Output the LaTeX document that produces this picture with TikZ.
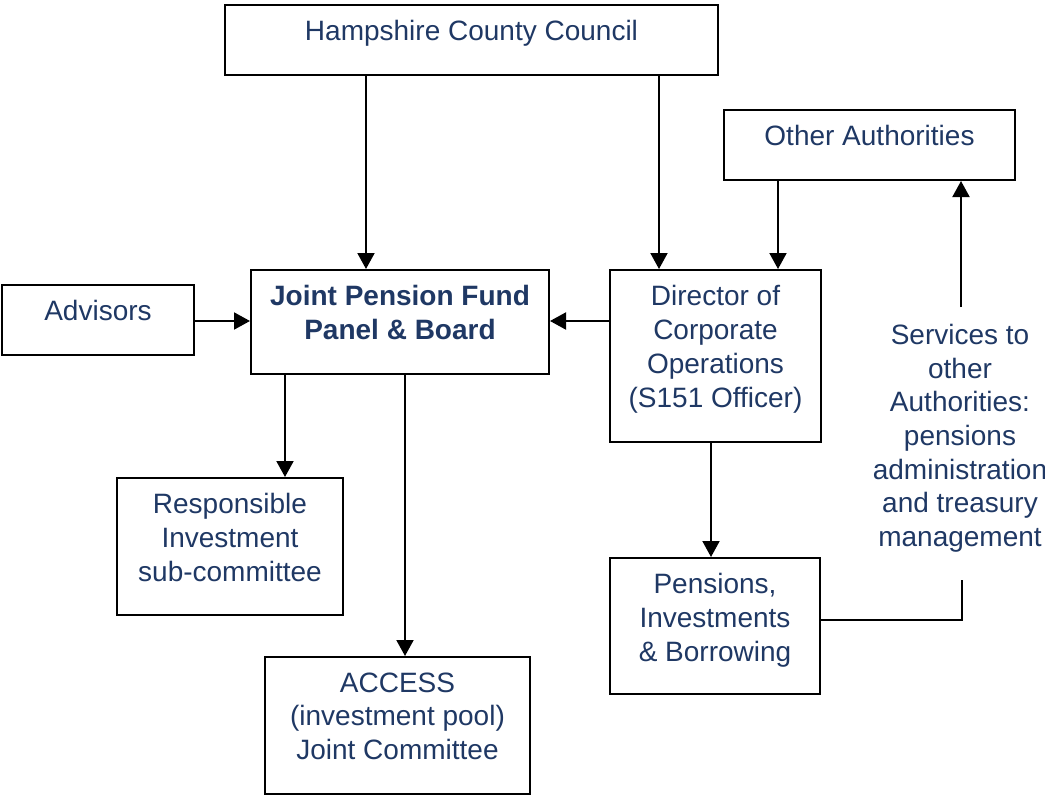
\documentclass[tikz,border=0pt]{standalone}
\usepackage{fontspec}
\setmainfont{Liberation Sans}
\usetikzlibrary{arrows.meta,positioning}
\definecolor{txtblue}{HTML}{1F3864}
\begin{document}
\begin{tikzpicture}[x=1pt,y=-1pt,
  box/.style={draw=black,line width=2pt,minimum width=#1,inner sep=0pt},
  txt/.style={text=txtblue,font=\fontsize{28}{33.7}\selectfont,align=center,inner sep=0pt},
  arr/.style={line width=2pt,-{Triangle[length=16pt,width=17pt]}},
  ln/.style={line width=2pt}]
\useasboundingbox (0,0) rectangle (1045,795);
% boxes
\node[box=493pt,minimum height=70pt] (hcc) at (471.5,40) {};
\node[box=291pt,minimum height=70pt] (oth) at (869.5,145) {};
\node[box=192pt,minimum height=70pt] (adv) at (98,320) {};
\node[box=298pt,minimum height=104pt] (jpf) at (400,322) {};
\node[box=211pt,minimum height=172pt] (dir) at (715.5,356) {};
\node[box=226pt,minimum height=137pt] (res) at (230,546.5) {};
\node[box=265pt,minimum height=137pt] (acc) at (397.5,725.5) {};
\node[box=210pt,minimum height=136pt] (pen) at (715,626) {};
% texts
\node[txt,below=16.5pt of hcc.north] (hcct) {Hampshire County Council};
\node[txt,below=16.5pt of oth.north] (otht) {Other Authorities};
\node[txt,below=16.5pt of adv.north] (advt) {Advisors};
\node[txt,below=16.5pt of jpf.north,font=\fontsize{28}{33.7}\selectfont\bfseries] (jpft) {Joint Pension Fund\\Panel \& Board};
\node[txt,below=16.5pt of dir.north] (dirt) {Director of\\Corporate\\Operations\\(S151 Officer)};
\node[txt,below=16.5pt of res.north] (rest) {Responsible\\Investment\\sub-committee};
\node[txt,below=16.5pt of acc.north] (acct) {ACCESS\\(investment pool)\\Joint Committee};
\node[txt,below=16.5pt of pen.north] (pent) {Pensions,\\Investments\\\& Borrowing};
\node[txt,anchor=north] (svc) at (960,324) {Services to\\other\\Authorities:\\pensions\\administration\\and treasury\\management};
% connectors
\coordinate (svctop) at (961,307);
\coordinate (svcbot) at (962,580);
\coordinate (corner) at (962,620);
\draw[arr] (hcc.south -| 366,0) -- (jpf.north -| 366,0);
\draw[arr] (hcc.south -| 659,0) -- (dir.north -| 659,0);
\draw[arr] (oth.south -| 778,0) -- (dir.north -| 778,0);
\draw[arr] (adv.east |- 0,321) -- (jpf.west |- 0,321);
\draw[arr] (dir.west |- 0,321) -- (jpf.east |- 0,321);
\draw[arr] (jpf.south -| 285,0) -- (res.north -| 285,0);
\draw[arr] (jpf.south -| 405,0) -- (acc.north -| 405,0);
\draw[arr] (dir.south -| 711,0) -- (pen.north -| 711,0);
\draw[arr] (svctop) -- (oth.south -| svctop);
\draw[ln] (pen.east |- corner) -- (corner) -- (svcbot);
\end{tikzpicture}
\end{document}
